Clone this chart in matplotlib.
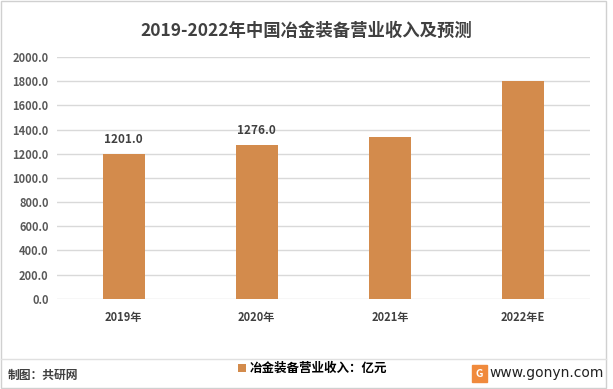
import matplotlib
matplotlib.use("Agg")
import matplotlib.pyplot as plt
from matplotlib.patches import Rectangle

plt.rcParams["font.family"] = ["Noto Sans CJK SC", "DejaVu Sans"]

years = ["2019年", "2020年", "2021年", "2022年E"]
revenue = [1201.0, 1276.0, 1340.0, 1800.0]
labels = ["1201.0", "1276.0", "", ""]
yticks = [0, 200, 400, 600, 800, 1000, 1200, 1400, 1600, 1800, 2000]

BAR = "#D38B4C"
TXT = "#404040"

fig = plt.figure(figsize=(6.13, 3.89), dpi=100)
ax = fig.add_axes([0.093, 0.232, 0.869, 0.621])

x = list(range(len(years)))
bars = ax.bar(x, revenue, width=0.315, color=BAR, zorder=3)
for b, lab in zip(bars, labels):
    if lab:
        ax.text(b.get_x() + b.get_width() / 2, b.get_height() + 60, lab,
                ha="center", va="bottom", fontsize=8.5, fontweight="bold", color=TXT)

ax.set_xlim(-0.5, len(years) - 0.5)
ax.set_ylim(0, 2000)
ax.set_yticks(yticks)
ax.set_yticklabels([f"{v:.1f}" for v in yticks], fontsize=8, fontweight="bold", color="#595959")
ax.set_xticks(x)
ax.set_xticklabels(years, fontsize=8, fontweight="bold", color=TXT)
ax.tick_params(length=0, pad=6)
ax.tick_params(axis="x", pad=9)
ax.grid(axis="y", color="#D9D9D9", linewidth=1, zorder=0)
for s in ax.spines.values():
    s.set_visible(False)

fig.text(0.5, 0.92, "2019-2022年中国冶金装备营业收入及预测", ha="center", va="center",
         fontsize=12.5, fontweight="bold", color=TXT)

fig.legend(handles=[bars], labels=["冶金装备营业收入：亿元"], loc="center",
           bbox_to_anchor=(0.51, 0.052), frameon=False,
           handlelength=0.7, handleheight=0.7, handletextpad=0.3,
           prop={"weight": "bold", "size": 9})

fig.text(0.012, 0.035, "制图：共研网", ha="left", va="center", fontsize=8.5,
         fontweight="bold", color=TXT)
fig.text(0.985, 0.04, "www.gonyn.com", ha="right", va="center", fontsize=10,
         color="#222222", family="DejaVu Sans")
fig.patches.append(Rectangle((0.770, 0.017), 0.025, 0.044, transform=fig.transFigure,
                             color="#F08A3C", zorder=5))
fig.text(0.7825, 0.039, "G", ha="center", va="center", fontsize=7.5, fontweight="bold",
         color="white", zorder=6)

# outer borders
fig.patches.append(Rectangle((0.002, 0.003), 0.986, 0.994, transform=fig.transFigure,
                             fill=False, edgecolor="#D0D0D0", linewidth=1))
fig.add_artist(plt.Line2D([0.002, 0.988], [0.077, 0.077], transform=fig.transFigure,
                          color="#E0E0E0", linewidth=1))

fig.savefig("out.png", dpi=100)
